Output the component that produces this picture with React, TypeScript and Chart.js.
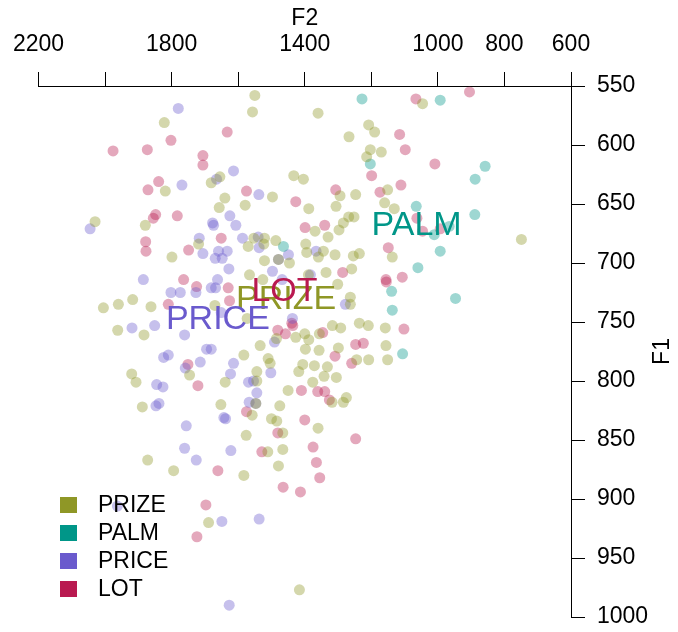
import React, { useEffect, useRef } from 'react';
import { Chart, registerables } from 'chart.js';

Chart.register(...registerables);

const FONT = '"Liberation Sans", Arial, Helvetica, sans-serif';

const CATEGORIES = ['PRIZE', 'PALM', 'PRICE', 'LOT'];
const COLORS = ['#8F9726', '#009688', '#6A5ACD', '#B91950'];
const POINT_ALPHA = 0.38;

// [F2, F1] pairs
const PRIZE: [number, number][] = [
  [1550,558],[1557,572],[1822,581],[1655,627],[1681,632],[1433,626],[1404,629],[1819,639],[1497,644],[1640,645],
  [1657,653],[1579,651],[1388,654],[2030,665],[1879,668],[1719,684],[1553,679],[1521,679],[1523,684],[1570,686],
  [1487,681],[1397,684],[1394,691],[1799,695],[1521,698],[1479,697],[1446,700],[1566,710],[1526,714],[1389,710],
  [1046,565],[1360,573],[1208,583],[1190,589],[1267,593],[1203,604],[1170,606],[1214,610],[1294,643],[1247,642],
  [1151,638],[1306,652],[1160,649],[1131,654],[749,680],[1284,666],[1268,661],[1252,661],[1297,672],[1369,673],
  [1330,678],[1137,695],[1359,695],[1344,690],[1309,693],[1254,694],[1236,692],[1259,705],[1336,708],
  [2005,738],[1960,735],[1917,731],[1862,737],[1670,736],[1573,747],[1962,757],[1883,761],[1485,764],[1427,763],[1400,760],
  [1534,770],[1398,773],[1583,778],[1510,781],[1504,785],[1406,786],[1746,795],[1544,792],[1418,792],[1920,794],
  [1907,801],[1639,801],[1544,800],[1450,808],[1888,822],[1652,820],[1547,819],[1558,829],[1475,821],[1500,832],
  [1484,834],[1576,846],[1466,844],[1511,860],[1466,858],[1872,867],[1479,872],[1794,876],
  [1301,718],[1263,729],[1263,735],[1317,753],[1292,755],[1236,751],[1209,753],[1158,755],[1388,765],[1356,760],
  [1357,774],[1299,772],[1156,770],[1244,782],[1208,782],[1151,782],[1371,787],[1332,788],[1342,796],[1305,797],
  [1376,801],[1318,818],[1284,818],[1275,814],[1360,840],[1583,880],[1689,920],[1416,977],
];

const PALM: [number, number][] = [
  [1464,686],[1228,561],[993,562],[1203,616],[858,618],[888,629],[1065,652],[889,659],[993,690],[1060,704],
  [966,669],[1011,676],[1139,724],[947,730],[1137,740],[1106,777],
];

const PRICE: [number, number][] = [
  [1780,569],[1665,629],[1614,622],[1769,634],[1538,642],[2045,671],[1625,660],[1607,668],[1677,666],[1674,668],
  [1717,679],[1587,679],[1540,678],[1537,687],[1706,692],[1659,690],[1633,690],[1669,696],[1648,696],[1628,705],
  [1479,697],[1449,693],[1497,707],[1885,714],[1662,714],[1468,714],[1366,690],[1383,710],[1681,721],[1668,721],
  [1802,725],[1774,725],[1727,725],[1919,755],[1851,753],[1761,761],[1437,747],[1491,767],[1695,773],[1681,773],
  [1824,780],[1810,778],[1759,789],[1714,784],[1614,785],[1623,794],[1502,793],[1845,803],[1826,805],[1569,801],
  [1554,800],[1544,810],[1847,821],[1838,819],[1567,818],[1547,819],[1643,831],[1638,832],[1756,838],[1761,857],
  [1622,859],[1726,867],[1278,735],[1963,906],[1649,919],[1537,917],[1627,990],[1651,742],
];

const LOT: [number, number][] = [
  [1633,589],[1802,596],[1976,605],[1873,604],[1706,609],[1706,617],[1839,631],[1871,638],[1575,639],[1427,648],
  [1848,659],[1855,662],[1783,660],[1399,670],[1651,679],[1878,682],[1877,690],[1749,689],[1764,714],
  [1066,561],[905,555],[1115,591],[1098,604],[1009,616],[1199,626],[1307,638],[1174,640],[1111,634],[1063,662],
  [1340,668],[1046,673],[993,671],[1149,687],[1107,712],[1156,714],[1286,708],
  [1725,720],[1630,721],[1810,735],[1626,732],[1481,757],[1458,760],[1439,751],[1436,753],[1751,786],[1721,804],
  [1410,808],[1575,826],[1400,833],[1481,844],[1529,860],[1661,876],
  [1155,716],[1346,759],[1102,756],[1309,779],[1247,769],[1224,768],[1259,785],[1361,809],[1340,809],[1326,816],
  [1247,849],[1375,856],[1365,869],[1465,890],[1413,894],[1355,882],[1697,905],[1724,932],
];

const SERIES = [PRIZE, PALM, PRICE, LOT];

// centroid label positions (F2, F1)
const LABEL_F2 = [1456, 1064, 1661, 1461];
const LABEL_F1 = [731, 668, 748, 724];

const F2_MIN = 600, F2_MAX = 2200, F2_STEP = 200;
const F1_MIN = 550, F1_MAX = 1000, F1_STEP = 50;
const F2_TICK_LABELS = [2200, 1800, 1400, 1000, 800, 600];

function rgba(hex: string, a: number) {
  const n = parseInt(hex.slice(1), 16);
  return `rgba(${(n >> 16) & 255},${(n >> 8) & 255},${n & 255},${a})`;
}

const overlayPlugin = {
  id: 'overlay',
  afterDatasetsDraw(chart: any) {
    const ctx = chart.ctx;
    const xs = chart.scales.x;
    const ys = chart.scales.y;
    const area = chart.chartArea;
    ctx.save();
    // centroid labels
    ctx.font = `34px ${FONT}`;
    ctx.textAlign = 'center';
    ctx.textBaseline = 'middle';
    CATEGORIES.forEach((c, i) => {
      ctx.fillStyle = COLORS[i];
      ctx.fillText(c, xs.getPixelForValue(LABEL_F2[i]), ys.getPixelForValue(LABEL_F1[i]));
    });
    // legend
    ctx.font = `23px ${FONT}`;
    ctx.textAlign = 'left';
    CATEGORIES.forEach((c, i) => {
      const cy = 505 + i * 28;
      ctx.fillStyle = COLORS[i];
      ctx.fillRect(60, cy - 8, 17, 16);
      ctx.fillStyle = '#000';
      ctx.fillText(c, 98, cy + 1);
    });
    // axis titles
    ctx.fillStyle = '#000';
    ctx.textAlign = 'center';
    ctx.fillText('F2', (area.left + area.right) / 2, 19);
    ctx.translate(663, (area.top + area.bottom) / 2);
    ctx.rotate(-Math.PI / 2);
    ctx.fillText('F1', 0, 0);
    ctx.restore();
  },
};

export default function App() {
  const ref = useRef<HTMLCanvasElement | null>(null);
  useEffect(() => {
    if (!ref.current) return;
    const chart = new Chart(ref.current, {
      type: 'scatter',
      data: {
        datasets: CATEGORIES.map((c, i) => ({
          label: c,
          data: SERIES[i].map(([x, y]) => ({ x, y })),
          backgroundColor: rgba(COLORS[i], POINT_ALPHA),
          borderWidth: 0,
          pointRadius: 5.5,
          pointHoverRadius: 5.5,
        })),
      },
      options: {
        responsive: false,
        animation: false,
        events: [],
        devicePixelRatio: 1,
        layout: { padding: { left: 38.5, right: 0, top: 0, bottom: 15 } },
        plugins: { legend: { display: false }, tooltip: { enabled: false }, title: { display: false } },
        scales: {
          x: {
            type: 'linear',
            position: 'top',
            reverse: true,
            min: F2_MIN,
            max: F2_MAX,
            afterFit: (s: any) => { s.height = 86; s.paddingLeft = 0; s.paddingRight = 0; },
            ticks: {
              stepSize: F2_STEP,
              autoSkip: false,
              maxRotation: 0,
              padding: 14,
              color: '#000',
              font: { family: FONT, size: 23 },
              callback: (v: any) => (F2_TICK_LABELS.includes(Number(v)) ? String(v) : ''),
            },
            grid: { drawOnChartArea: false, drawTicks: true, tickLength: 14, color: '#000', lineWidth: 1 },
            border: { display: true, color: '#000', width: 1 },
          },
          y: {
            type: 'linear',
            position: 'right',
            reverse: true,
            min: F1_MIN,
            max: F1_MAX,
            afterFit: (s: any) => { s.width = 107; s.paddingTop = 0; s.paddingBottom = 0; },
            ticks: {
              stepSize: F1_STEP,
              autoSkip: false,
              padding: 12,
              color: '#000',
              font: { family: FONT, size: 23 },
              callback: (v: any) => String(v),
            },
            grid: { drawOnChartArea: false, drawTicks: true, tickLength: 14, color: '#000', lineWidth: 1 },
            border: { display: true, color: '#000', width: 1 },
          },
        },
      },
      plugins: [overlayPlugin],
    } as any);
    return () => chart.destroy();
  }, []);
  return (
    <div style={{ position: 'absolute', left: 0, top: 0, width: 678, height: 632, background: '#fff' }}>
      <canvas ref={ref} width={678} height={632} style={{ display: 'block' }} />
    </div>
  );
}
